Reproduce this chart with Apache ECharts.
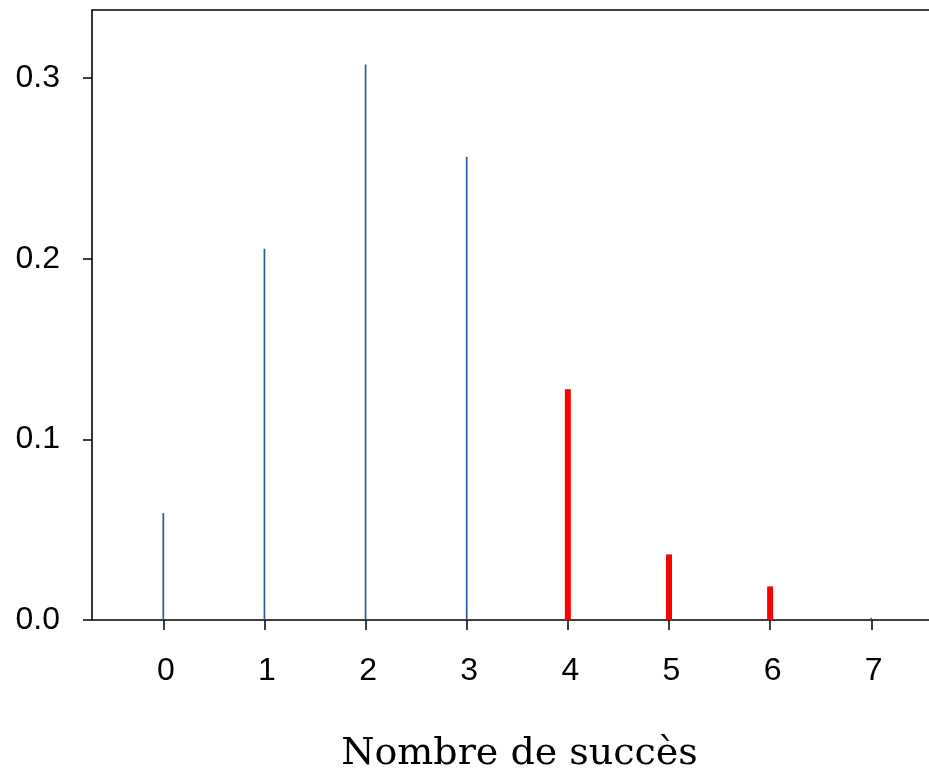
<!DOCTYPE html>
<html><head><meta charset="utf-8">
<script src="https://cdn.jsdelivr.net/npm/echarts@6/dist/echarts.min.js"></script>
<style>html,body{margin:0;padding:0;background:#fff}#c{width:929px;height:775px}</style>
</head><body><div id="c"></div>
<script>
const categories = [0, 1, 2, 3, 4, 5, 6, 7];
const blueX = [0, 1, 2, 3, 7];
const blueY = [0.0592, 0.2055, 0.3075, 0.2565, 0.0012];
const redX = [4, 5, 6];
const redY = [0.1277, 0.0363, 0.0186];
const yTicks = [0, 0.1, 0.2, 0.3];
const xTitle = 'Nombre de succès';

const chart = echarts.init(document.getElementById('c'), null, {renderer: 'canvas'});
function stick(color, width) {
  return function (params, api) {
    const p0 = api.coord([api.value(0), 0]);
    const p1 = api.coord([api.value(0), api.value(1)]);
    return {type: 'line', shape: {x1: p0[0], y1: p0[1], x2: p1[0], y2: p1[1]},
      style: {stroke: color, lineWidth: width, lineCap: 'butt'}};
  };
}
chart.setOption({
  animation: false,
  grid: {left: 92, top: 10, right: 0, bottom: 155, containLabel: false, outerBoundsMode: 'none'},
  xAxis: [{
    type: 'value', min: -0.705, max: 7.571, position: 'bottom',
    axisLine: {show: true, onZero: false, lineStyle: {color: '#000', width: 1.6}},
    axisTick: {show: true, length: 10, customValues: categories, lineStyle: {color: '#000', width: 1.5}},
    axisLabel: {customValues: categories, margin: 35, fontSize: 32, color: '#000', fontFamily: 'Liberation Sans, Arial, sans-serif', padding: [0, 0, 0, 5]},
    splitLine: {show: false},
    name: xTitle, nameLocation: 'middle', nameGap: 115,
    nameTextStyle: {fontSize: 38, color: '#000', fontFamily: 'DejaVu Serif, serif', padding: [0, 0, 0, 18]}
  }, {
    type: 'value', min: -0.705, max: 7.571, position: 'top',
    axisLine: {show: true, onZero: false, lineStyle: {color: '#000', width: 1.6}},
    axisTick: {show: false}, axisLabel: {show: false}, splitLine: {show: false}
  }],
  yAxis: {
    type: 'value', min: 0, max: 0.3377,
    axisLine: {show: true, onZero: false, lineStyle: {color: '#000', width: 1.6}},
    axisTick: {show: true, length: 9, customValues: yTicks, lineStyle: {color: '#000', width: 1.5}},
    axisLabel: {customValues: yTicks, margin: 32, fontSize: 32, color: '#000', fontFamily: 'Liberation Sans, Arial, sans-serif',
      formatter: v => v.toFixed(1)},
    splitLine: {show: false}
  },
  series: [{
    type: 'custom', xAxisIndex: 0,
    data: blueX.map((x, i) => [x, blueY[i]]),
    renderItem: stick('#2d5c9c', 1.7)
  }, {
    type: 'custom', xAxisIndex: 0,
    data: redX.map((x, i) => [x, redY[i]]),
    renderItem: stick('#ff0000', 6)
  }]
});
</script></body></html>
